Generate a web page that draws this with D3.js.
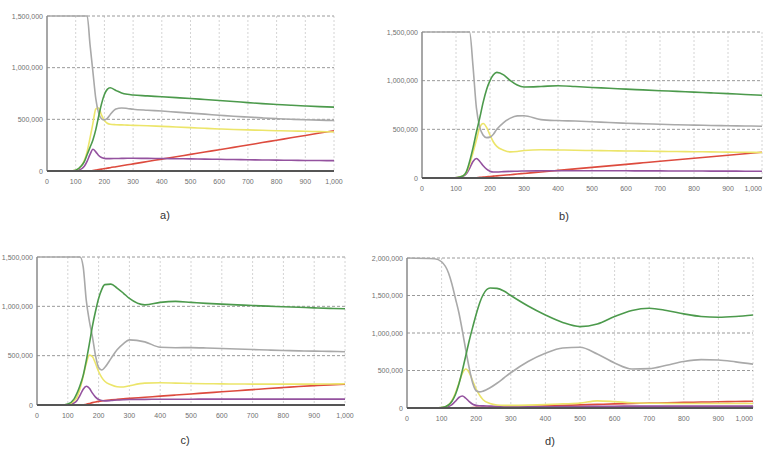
<html>
<head>
<title>SEIR runs</title>
<script src="https://cdnjs.cloudflare.com/ajax/libs/d3/7.8.5/d3.min.js"></script>
<style>
body { margin: 0; background: #fff; }
text { font-family: Arial, "Liberation Sans", sans-serif; }
</style>
</head>
<body>
<script>
// time steps shared by all four runs
var steps = [0, 80, 100, 120, 130, 140, 150, 160, 170, 180, 190, 200, 210, 220, 240, 260, 280, 300,
  350, 400, 450, 500, 550, 600, 650, 700, 750, 800, 850, 900, 950, 1000];

var xTicks = [0, 100, 200, 300, 400, 500, 600, 700, 800, 900, 1000];

// values in thousands
var grayA   = [1500,1500,1500,1500,1500,1500,1220,960,700,560,505,495,510,545,600,610,605,598,588,580,570,560,550,540,530,522,514,507,501,496,492,488];
var greenA  = [0,0,8,50,90,160,230,300,400,530,650,740,790,805,780,755,742,735,727,718,710,702,692,682,672,662,652,644,636,629,623,618];
var yellowA = [0,0,8,50,100,190,320,460,600,610,540,490,462,452,448,446,444,442,438,432,426,420,413,407,402,398,394,390,387,384,381,378];
var purpleA = [0,0,3,20,45,95,160,210,185,150,130,122,120,120,121,122,123,123,122,121,119,117,115,113,111,109,107,105,104,102,101,100];
var redA    = [0,0,0,0,0,0,0,5,9,14,18,23,28,32,41,50,60,69,92,115,138,161,184,206,229,252,275,298,321,344,367,390];

var grayB   = [1500,1500,1500,1500,1500,1500,1150,720,520,440,415,420,450,500,570,615,638,640,600,590,585,578,570,563,557,552,547,543,540,537,535,532];
var greenB  = [0,0,3,20,60,170,310,470,620,780,910,1000,1060,1085,1060,1000,955,935,940,948,940,930,922,913,905,897,890,882,875,867,858,850];
var yellowB = [0,0,3,20,55,140,260,390,520,560,520,440,370,325,285,268,272,282,290,288,285,282,280,278,276,274,272,270,268,266,264,262];
var purpleB = [0,0,2,15,40,100,170,200,170,125,90,70,62,62,65,68,70,72,74,75,75,75,74,74,73,73,72,72,71,71,70,70];
var redB    = [0,0,0,0,0,0,0,3,6,9,12,16,19,22,28,34,41,47,62,78,94,109,125,140,156,172,187,203,218,234,249,265];

var grayC   = [1500,1500,1500,1500,1500,1500,1400,1060,850,690,500,380,355,380,470,560,620,660,640,585,580,582,578,572,567,562,557,553,549,546,543,540];
var greenC  = [0,0,10,60,120,200,300,450,620,800,950,1080,1170,1220,1225,1185,1135,1080,1015,1040,1050,1040,1030,1022,1015,1008,1002,996,990,984,979,975];
var yellowC = [0,0,5,40,80,170,290,420,505,490,420,340,280,240,205,185,182,195,222,225,222,218,216,214,213,212,212,212,212,212,213,215];
var purpleC = [0,0,3,20,45,100,160,190,170,120,80,55,45,42,45,50,53,55,57,58,59,59,60,60,60,60,60,60,60,60,60,60];
var redC    = [0,0,0,0,0,0,0,8,16,24,31,37,42,46,52,57,62,67,78,90,101,112,123,134,145,156,167,177,187,196,204,210];

var grayD   = [2000,1990,1950,1800,1650,1460,1270,1030,770,530,330,230,215,225,270,330,400,470,620,730,800,810,720,600,520,525,570,620,645,640,615,585];
var greenD  = [0,0,5,40,90,180,320,500,700,900,1080,1250,1400,1510,1600,1595,1560,1500,1360,1240,1140,1085,1120,1220,1300,1330,1300,1255,1220,1210,1220,1240];
var yellowD = [0,0,5,40,100,200,330,460,520,470,360,250,170,110,60,40,35,35,38,45,55,65,95,85,70,64,62,60,60,60,60,60];
var purpleD = [0,0,3,20,45,90,140,160,130,85,50,35,30,28,25,22,20,18,17,17,18,20,22,24,25,25,25,25,25,25,25,25];
var redD    = [0,0,0,0,0,0,0,1,2,3,5,8,9,10,12,14,16,18,24,30,36,42,48,55,60,65,70,75,79,83,87,90];

var seriesColors = { gray: "#a9a9a9", green: "#4c9a4c", yellow: "#ece56a", purple: "#94529f", red: "#dd4b3e" };

var panels = [
  { tag: "a)", left: 47,  top: 16,  right: 334, bottom: 171, yMax: 1500, yTicks: [0, 500, 1000, 1500], lx: 165, ly: 219,
    data: { gray: grayA, green: greenA, yellow: yellowA, purple: purpleA, red: redA } },
  { tag: "b)", left: 422, top: 32,  right: 762, bottom: 178, yMax: 1500, yTicks: [0, 500, 1000, 1500], lx: 564, ly: 220,
    data: { gray: grayB, green: greenB, yellow: yellowB, purple: purpleB, red: redB } },
  { tag: "c)", left: 37,  top: 257, right: 345, bottom: 405, yMax: 1500, yTicks: [0, 500, 1000, 1500], lx: 185, ly: 444,
    data: { gray: grayC, green: greenC, yellow: yellowC, purple: purpleC, red: redC } },
  { tag: "d)", left: 407, top: 258, right: 753, bottom: 408, yMax: 2000, yTicks: [0, 500, 1000, 1500, 2000], lx: 550, ly: 445,
    data: { gray: grayD, green: greenD, yellow: yellowD, purple: purpleD, red: redD } }
];

var svg = d3.select("body").append("svg").attr("width", 768).attr("height", 455);
var fmt = d3.format(",");

panels.forEach(function(p, i) {
  var x = d3.scaleLinear().domain([0, 1000]).range([p.left, p.right]);
  var y = d3.scaleLinear().domain([0, p.yMax]).range([p.bottom, p.top]);
  var g = svg.append("g");

  // vertical grid
  g.selectAll("line.vg").data(xTicks.slice(1)).enter().append("line")
    .attr("x1", function(d) { return x(d); }).attr("x2", function(d) { return x(d); })
    .attr("y1", p.top).attr("y2", p.bottom)
    .attr("stroke", "#d4d4d4").attr("stroke-dasharray", "2,2");

  // horizontal grid
  g.selectAll("line.hg").data(p.yTicks.slice(1)).enter().append("line")
    .attr("x1", p.left).attr("x2", p.right)
    .attr("y1", function(d) { return y(d); }).attr("y2", function(d) { return y(d); })
    .attr("stroke", "#9a9a9a").attr("stroke-dasharray", "3,2");

  g.selectAll("text.yt").data(p.yTicks).enter().append("text")
    .attr("x", p.left - 4).attr("y", function(d) { return y(d) + 2.5; })
    .attr("text-anchor", "end").attr("font-size", 7).attr("fill", "#707070")
    .text(function(d) { return fmt(d * 1000); });

  g.selectAll("text.xt").data(xTicks).enter().append("text")
    .attr("x", function(d) { return Math.min(x(d), 766); }).attr("y", p.bottom + 13)
    .attr("text-anchor", function(d) { return x(d) > 750 ? "end" : "middle"; })
    .attr("font-size", 7).attr("fill", "#707070")
    .text(function(d) { return fmt(d); });

  svg.append("clipPath").attr("id", "clip" + i).append("rect")
    .attr("x", p.left).attr("y", p.top - 1).attr("width", p.right - p.left).attr("height", p.bottom - p.top + 2);

  var line = d3.line()
    .x(function(d, k) { return x(steps[k]); })
    .y(function(d) { return y(d); })
    .curve(d3.curveMonotoneX);

  var lines = g.append("g").attr("clip-path", "url(#clip" + i + ")");
  ["red", "purple", "yellow", "gray", "green"].forEach(function(key) {
    lines.append("path").datum(p.data[key])
      .attr("d", line)
      .attr("fill", "none")
      .attr("stroke", seriesColors[key])
      .attr("stroke-width", 1.6);
  });

  // axes
  g.append("line").attr("x1", p.left).attr("x2", p.left).attr("y1", p.top).attr("y2", p.bottom)
    .attr("stroke", "#8a8a8a").attr("stroke-width", 1.5);
  g.append("line").attr("x1", p.left).attr("x2", p.right).attr("y1", p.bottom).attr("y2", p.bottom)
    .attr("stroke", "#555").attr("stroke-width", 2);

  svg.append("text").attr("x", p.lx).attr("y", p.ly)
    .attr("text-anchor", "middle").attr("font-size", 11).attr("fill", "#333")
    .text(p.tag);
});
</script>
</body>
</html>
